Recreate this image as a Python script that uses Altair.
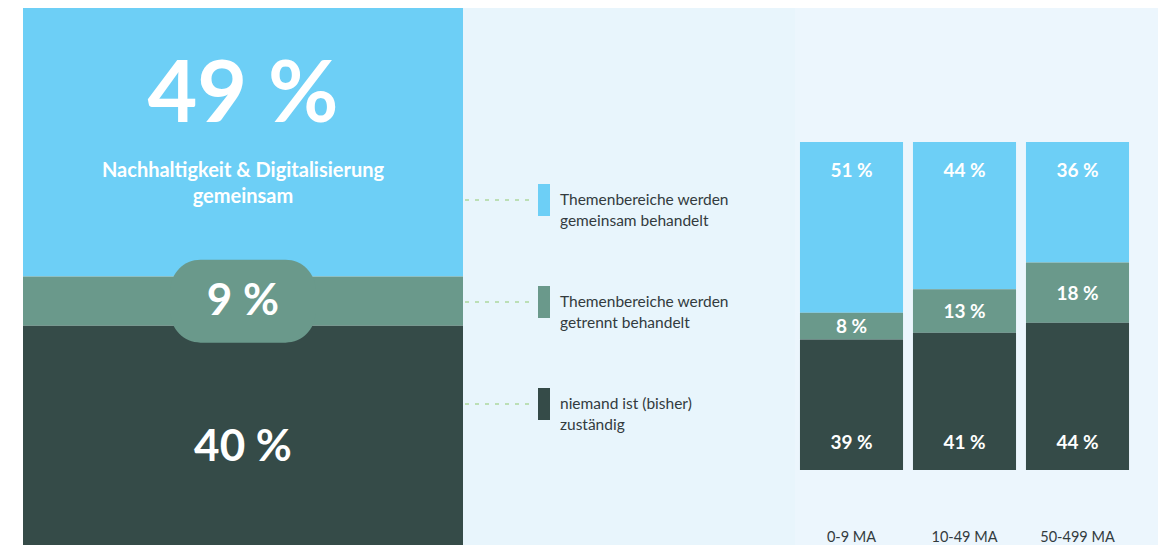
import altair as alt
import pandas as pd

# ---------------- data ----------------
cat_keys = ["gemeinsam", "getrennt", "niemand"]
legend_labels = [
    "Themenbereiche werden\ngemeinsam behandelt",
    "Themenbereiche werden\ngetrennt behandelt",
    "niemand ist (bisher)\nzuständig",
]
stack_rank = [2, 1, 0]
total_values = [49, 9, 40]
subtitle = ["Nachhaltigkeit & Digitalisierung", "gemeinsam"]

groups = ["0-9 MA", "10-49 MA", "50-499 MA"]
vals_gemeinsam = [51, 44, 36]
vals_getrennt = [8, 13, 18]
vals_niemand = [39, 41, 44]

palette = ["#6dcff6", "#6a998b", "#354b48"]

# ---------------- styling ----------------
H = 537
FONT = "Lato"
PILL = ("M-0.586,-0.572L0.586,-0.572C0.815,-0.572 1,-0.387 1,-0.158L1,0.158"
        "C1,0.387 0.815,0.572 0.586,0.572L-0.586,0.572C-0.815,0.572 -1,0.387 -1,0.158"
        "L-1,-0.158C-1,-0.387 -0.815,-0.572 -0.586,-0.572Z")
RECT = "M-0.375,-1L0.375,-1L0.375,1L-0.375,1Z"

color = alt.Color("cat:N", scale=alt.Scale(domain=cat_keys, range=palette), legend=None)


def stacked(df):
    return (
        alt.Chart(df)
        .transform_stack(
            stack="value",
            groupby=["group"],
            as_=["y0", "y1"],
            offset="normalize",
            sort=[alt.SortField("rank", order="ascending")],
        )
        .transform_calculate(mid="(datum.y0 + datum.y1) / 2", label="datum.value + ' %'")
    )


# ---------------- panel 1: total block ----------------
left_df = pd.DataFrame({"cat": cat_keys, "value": total_values, "rank": stack_rank, "group": "Gesamt"})
b1 = stacked(left_df)
x1 = alt.X("group:N", axis=None, scale=alt.Scale(paddingInner=0, paddingOuter=0))
s1 = alt.Scale(domain=[0, 1], nice=False)

bars1 = b1.mark_bar().encode(x=x1, y=alt.Y("y0:Q", axis=None, scale=s1), y2="y1:Q", color=color)
pill = b1.transform_filter("datum.cat == 'getrennt'").mark_point(
    shape=PILL, size=145 * 145, filled=True, opacity=1, color=palette[1], strokeWidth=0
).encode(x=x1, y=alt.Y("mid:Q", axis=None, scale=s1))
t49 = b1.transform_filter("datum.cat == 'gemeinsam'").mark_text(
    font=FONT, fontSize=86, fontWeight="bold", color="white", baseline="alphabetic", dy=-20
).encode(x=x1, y=alt.Y("mid:Q", axis=None, scale=s1), text="label:N")
tsub = b1.transform_filter("datum.cat == 'gemeinsam'").mark_text(
    text=subtitle, lineHeight=26, font=FONT, fontSize=20, fontWeight="bold", color="white",
    baseline="alphabetic", dy=35
).encode(x=x1, y=alt.Y("mid:Q", axis=None, scale=s1))
t9 = b1.transform_filter("datum.cat == 'getrennt'").mark_text(
    font=FONT, fontSize=44, fontWeight="bold", color="white", baseline="alphabetic", dy=14
).encode(x=x1, y=alt.Y("mid:Q", axis=None, scale=s1), text="label:N")
t40 = b1.transform_filter("datum.cat == 'niemand'").mark_text(
    font=FONT, fontSize=44, fontWeight="bold", color="white", baseline="alphabetic", dy=26
).encode(x=x1, y=alt.Y("mid:Q", axis=None, scale=s1), text="label:N")

panel1 = alt.layer(bars1, pill, t49, tsub, t9, t40).properties(
    width=440, height=H, view=alt.ViewBackground(stroke="transparent")
)

# ---------------- panel 2: legend ----------------
leg_df = pd.DataFrame({"cat": cat_keys, "text": legend_labels})
ly = alt.Y("cat:N", axis=None,
           scale=alt.Scale(type="point", domain=cat_keys, range=[141, 447], paddingOuter=0.5))
dash = alt.Chart(leg_df).mark_rule(strokeDash=[4, 6], strokeWidth=2, color="#bcdfb5").encode(
    y=ly, x=alt.value(2), x2=alt.value(67)
)
sq = alt.Chart(leg_df).mark_point(shape=RECT, size=1024, filled=True, opacity=1, strokeWidth=0).encode(
    y=ly, x=alt.value(81), color=color
)
lt = alt.Chart(leg_df).mark_text(
    align="left", baseline="middle", lineBreak="\n", lineHeight=21, fontSize=15.5, font=FONT, color="#333b3e"
).encode(y=ly, x=alt.value(97), text="text:N")
panel2 = alt.layer(dash, sq, lt).properties(
    width=332, height=H, view=alt.ViewBackground(fill="#e8f5fc", stroke="transparent")
)

# ---------------- panel 3: bars by company size ----------------
bar_df = pd.DataFrame({
    "group": groups * 3,
    "cat": [cat_keys[0]] * 3 + [cat_keys[1]] * 3 + [cat_keys[2]] * 3,
    "value": vals_gemeinsam + vals_getrennt + vals_niemand,
    "rank": [stack_rank[0]] * 3 + [stack_rank[1]] * 3 + [stack_rank[2]] * 3,
})
b3 = stacked(bar_df)
x3 = alt.X("group:N", axis=None, sort=groups,
           scale=alt.Scale(domain=groups, range=[0, 339], paddingInner=0.088, paddingOuter=0.044))
s3 = alt.Scale(domain=[0, 1], nice=False, range=[462, 134])

bars3 = b3.mark_bar().encode(x=x3, y=alt.Y("y0:Q", axis=None, scale=s3), y2="y1:Q", color=color)
lab_top = b3.transform_filter("datum.cat == 'gemeinsam'").mark_text(
    font=FONT, fontSize=19, fontWeight="bold", color="white", baseline="alphabetic", dy=35
).encode(x=x3, y=alt.Y("y1:Q", axis=None, scale=s3), text="label:N")
lab_mid = b3.transform_filter("datum.cat == 'getrennt'").mark_text(
    font=FONT, fontSize=19, fontWeight="bold", color="white", baseline="middle", dy=1
).encode(x=x3, y=alt.Y("mid:Q", axis=None, scale=s3), text="label:N")
lab_bot = b3.transform_filter("datum.cat == 'niemand'").mark_text(
    font=FONT, fontSize=19, fontWeight="bold", color="white", baseline="alphabetic", dy=-21
).encode(x=x3, y=alt.Y("y0:Q", axis=None, scale=s3), text="label:N")
cat_lab = alt.Chart(pd.DataFrame({"group": groups})).mark_text(
    font=FONT, fontSize=14.5, color="#333b3e", baseline="alphabetic"
).encode(x=x3, y=alt.value(534), text="group:N")

panel3 = alt.layer(bars3, lab_top, lab_mid, lab_bot, cat_lab).properties(
    width=363, height=H, view=alt.ViewBackground(fill="#ecf6fd", stroke="transparent")
)

chart = (
    alt.hconcat(panel1, panel2, panel3, spacing=0, bounds="flush")
    .properties(padding={"left": 15, "top": 0, "right": 0, "bottom": 0})
    .configure(background="white")
    .configure_view(strokeWidth=0)
)

chart.save("out.html", embed_options={"renderer": "svg", "actions": False})
